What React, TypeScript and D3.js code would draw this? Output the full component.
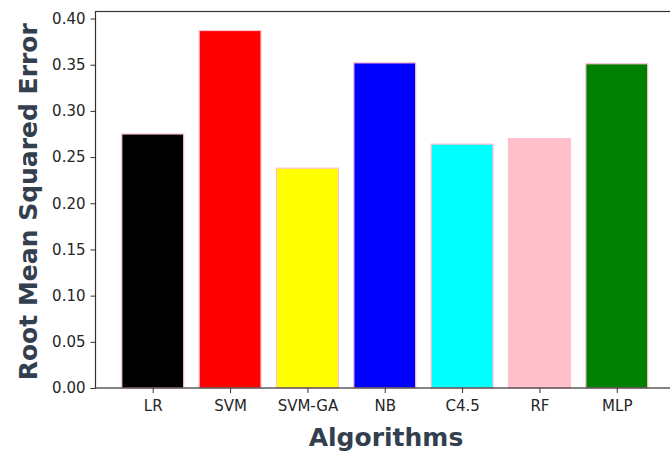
import React, { useRef, useEffect } from "react";
import * as d3 from "d3";

const algorithms = ["LR", "SVM", "SVM-GA", "NB", "C4.5", "RF", "MLP"];
const rmse = [0.275, 0.387, 0.238, 0.352, 0.264, 0.27, 0.351];
const barColors = ["black", "red", "yellow", "blue", "cyan", "pink", "green"];
const yTicks = [0, 0.05, 0.1, 0.15, 0.2, 0.25, 0.3, 0.35, 0.4];

export default function App() {
	const ref = useRef<SVGSVGElement>(null);

	const layout = { width: 670, height: 453, left: 95.5, right: 674, top: 11.5, bottom: 388 };

	useEffect(() => {
		const svg = d3.select(ref.current);
		svg.selectAll("*").remove();

		const xScale = d3.scaleLinear()
			.domain([-0.74, algorithms.length - 1 + 0.74])
			.range([layout.left, layout.right]);

		const yScale = d3.scaleLinear()
			.domain([0, 0.4076])
			.range([layout.bottom, layout.top]);

		const barWidth = xScale(0.8) - xScale(0);

		svg.append("g")
			.selectAll("rect")
			.data(rmse)
			.join("rect")
			.attr("x", (d, i) => xScale(i) - barWidth / 2)
			.attr("y", d => yScale(d))
			.attr("width", barWidth)
			.attr("height", d => yScale(0) - yScale(d))
			.attr("fill", (d, i) => barColors[i])
			.attr("stroke", "pink")
			.attr("stroke-width", 1.2);

		const yAxis = svg.append("g")
			.attr("transform", `translate(${layout.left}, 0)`)
			.call(d3.axisLeft(yScale).tickValues(yTicks).tickFormat(d3.format(".2f")).tickSize(5).tickPadding(5));

		const xAxis = svg.append("g")
			.attr("transform", `translate(0, ${layout.bottom})`)
			.call(d3.axisBottom(xScale).tickValues(d3.range(algorithms.length)).tickFormat((d: any) => algorithms[d]).tickSize(5).tickPadding(7));

		for (const ax of [xAxis, yAxis]) {
			ax.select(".domain").remove();
			ax.selectAll("line").attr("stroke", "#333").attr("stroke-width", 1);
			ax.selectAll("text")
				.attr("font-family", "DejaVu Sans")
				.attr("font-size", 15)
				.attr("fill", "#262626");
		}

		// spines
		svg.append("rect")
			.attr("x", layout.left)
			.attr("y", layout.top)
			.attr("width", layout.right - layout.left)
			.attr("height", layout.bottom - layout.top)
			.attr("fill", "none")
			.attr("stroke", "#333")
			.attr("stroke-width", 1.2);

		svg.append("text")
			.attr("x", 386)
			.attr("y", 446)
			.attr("text-anchor", "middle")
			.attr("font-family", "DejaVu Sans")
			.attr("font-weight", "bold")
			.attr("font-size", 25)
			.attr("fill", "#333f4e")
			.text("Algorithms");

		svg.append("text")
			.attr("transform", `translate(37, ${(layout.top + layout.bottom) / 2 + 2}) rotate(-90)`)
			.attr("text-anchor", "middle")
			.attr("font-family", "DejaVu Sans")
			.attr("font-weight", "bold")
			.attr("font-size", 25)
			.attr("fill", "#333f4e")
			.text("Root Mean Squared Error");
	}, []);

	return (
		<svg ref={ref} width={layout.width} height={layout.height}
			style={{ position: "absolute", left: 0, top: 0 }} />
	);
}
